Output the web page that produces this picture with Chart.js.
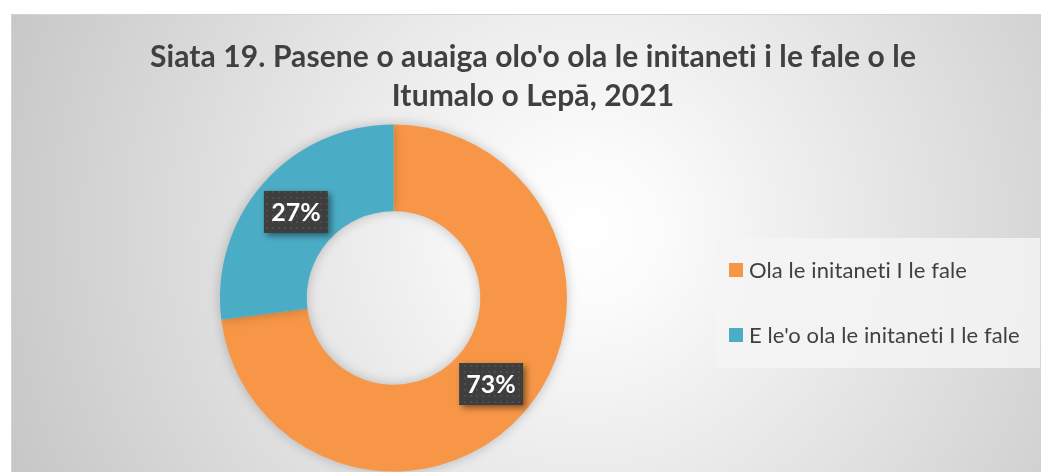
<!DOCTYPE html>
<html>
<head>
<meta charset="utf-8">
<script src="https://cdn.jsdelivr.net/npm/chart.js@4/dist/chart.umd.min.js"></script>
<style>
  body { margin: 0; background: #ffffff; }
  #box {
    position: absolute; left: 11px; top: 14px; width: 1030px; height: 458px;
    border-left: 1px solid #d4d4d4; border-top: 1px solid #d4d4d4; box-sizing: border-box;
    background: radial-gradient(circle 650px at 575px 215px, #ffffff 0%, #fbfbfb 12%, #c4c4c4 100%);
  }
</style>
</head>
<body>
<div id="box"><canvas id="chart"></canvas></div>
<script>
const titleLines = ["Siata 19. Pasene o auaiga olo'o ola le initaneti i le fale o le", "Itumalo o Lepā, 2021"];
const categories = ["Ola le initaneti I le fale", "E le'o ola le initaneti I le fale"];
const percents = [73, 27];
const colors = ['#F79646', '#4BACC6'];

function dotPattern(ctx){
    let c = document.createElement('canvas');
    c.width = 6; c.height = 6;
    let p = c.getContext('2d');
    p.fillStyle = '#3e3e3e';
    p.fillRect(0, 0, 6, 6);
    p.fillStyle = '#4c4c4c';
    p.fillRect(2, 2, 2, 2);
    return ctx.createPattern(c, 'repeat');
}

const extras = {
    id: 'extras',
    beforeDatasetsDraw(chart){
        const ctx = chart.ctx;
        ctx.save();
        ctx.shadowColor = 'rgba(0,0,0,0.22)';
        ctx.shadowBlur = 12;
    },
    afterDatasetsDraw(chart){
        const ctx = chart.ctx;
        ctx.restore();

        // title
        ctx.save();
        ctx.fillStyle = '#404040';
        ctx.font = 'bold 30px Lato';
        ctx.letterSpacing = '0.1px';
        ctx.textAlign = 'center';
        ctx.textBaseline = 'alphabetic';
        ctx.fillText(titleLines[0], 521, 52);
        ctx.fillText(titleLines[1], 521, 91);
        ctx.restore();

        // legend
        ctx.save();
        ctx.fillStyle = 'rgba(244,244,244,0.85)';
        ctx.fillRect(704, 223, 324, 130);
        ctx.font = '22px Lato';
        ctx.letterSpacing = '0.1px';
        ctx.textBaseline = 'middle';
        const rows = [255, 320];
        categories.forEach((c, i) => {
            ctx.fillStyle = colors[i];
            ctx.fillRect(717, rows[i] - 7, 14, 14);
            ctx.fillStyle = '#404040';
            ctx.fillText(c, 737, rows[i] + 1);
        });
        ctx.restore();

        // data labels
        const meta = chart.getDatasetMeta(0);
        const pat = dotPattern(ctx);
        meta.data.forEach((arc, i) => {
            const pos = arc.tooltipPosition();
            ctx.save();
            ctx.shadowColor = 'rgba(0,0,0,0.45)';
            ctx.shadowBlur = 6;
            ctx.shadowOffsetX = 3;
            ctx.shadowOffsetY = 3;
            ctx.fillStyle = pat;
            ctx.fillRect(pos.x - 32, pos.y - 21, 64, 42);
            ctx.restore();
            ctx.save();
            ctx.fillStyle = '#ffffff';
            ctx.font = 'bold 25px Lato';
            ctx.textAlign = 'center';
            ctx.textBaseline = 'middle';
            ctx.fillText(percents[i] + '%', pos.x, pos.y + 1);
            ctx.restore();
        });
    }
};

new Chart(document.getElementById('chart'), {
    type: 'doughnut',
    data: {
        labels: categories,
        datasets: [{
            data: percents,
            backgroundColor: colors,
            borderWidth: 0
        }]
    },
    options: {
        responsive: true,
        maintainAspectRatio: false,
        animation: false,
        cutout: '50%',
        layout: { padding: { left: 208, right: 474, top: 109, bottom: 0 } },
        plugins: {
            legend: { display: false },
            tooltip: { enabled: false }
        }
    },
    plugins: [extras]
});
</script>
</body>
</html>
